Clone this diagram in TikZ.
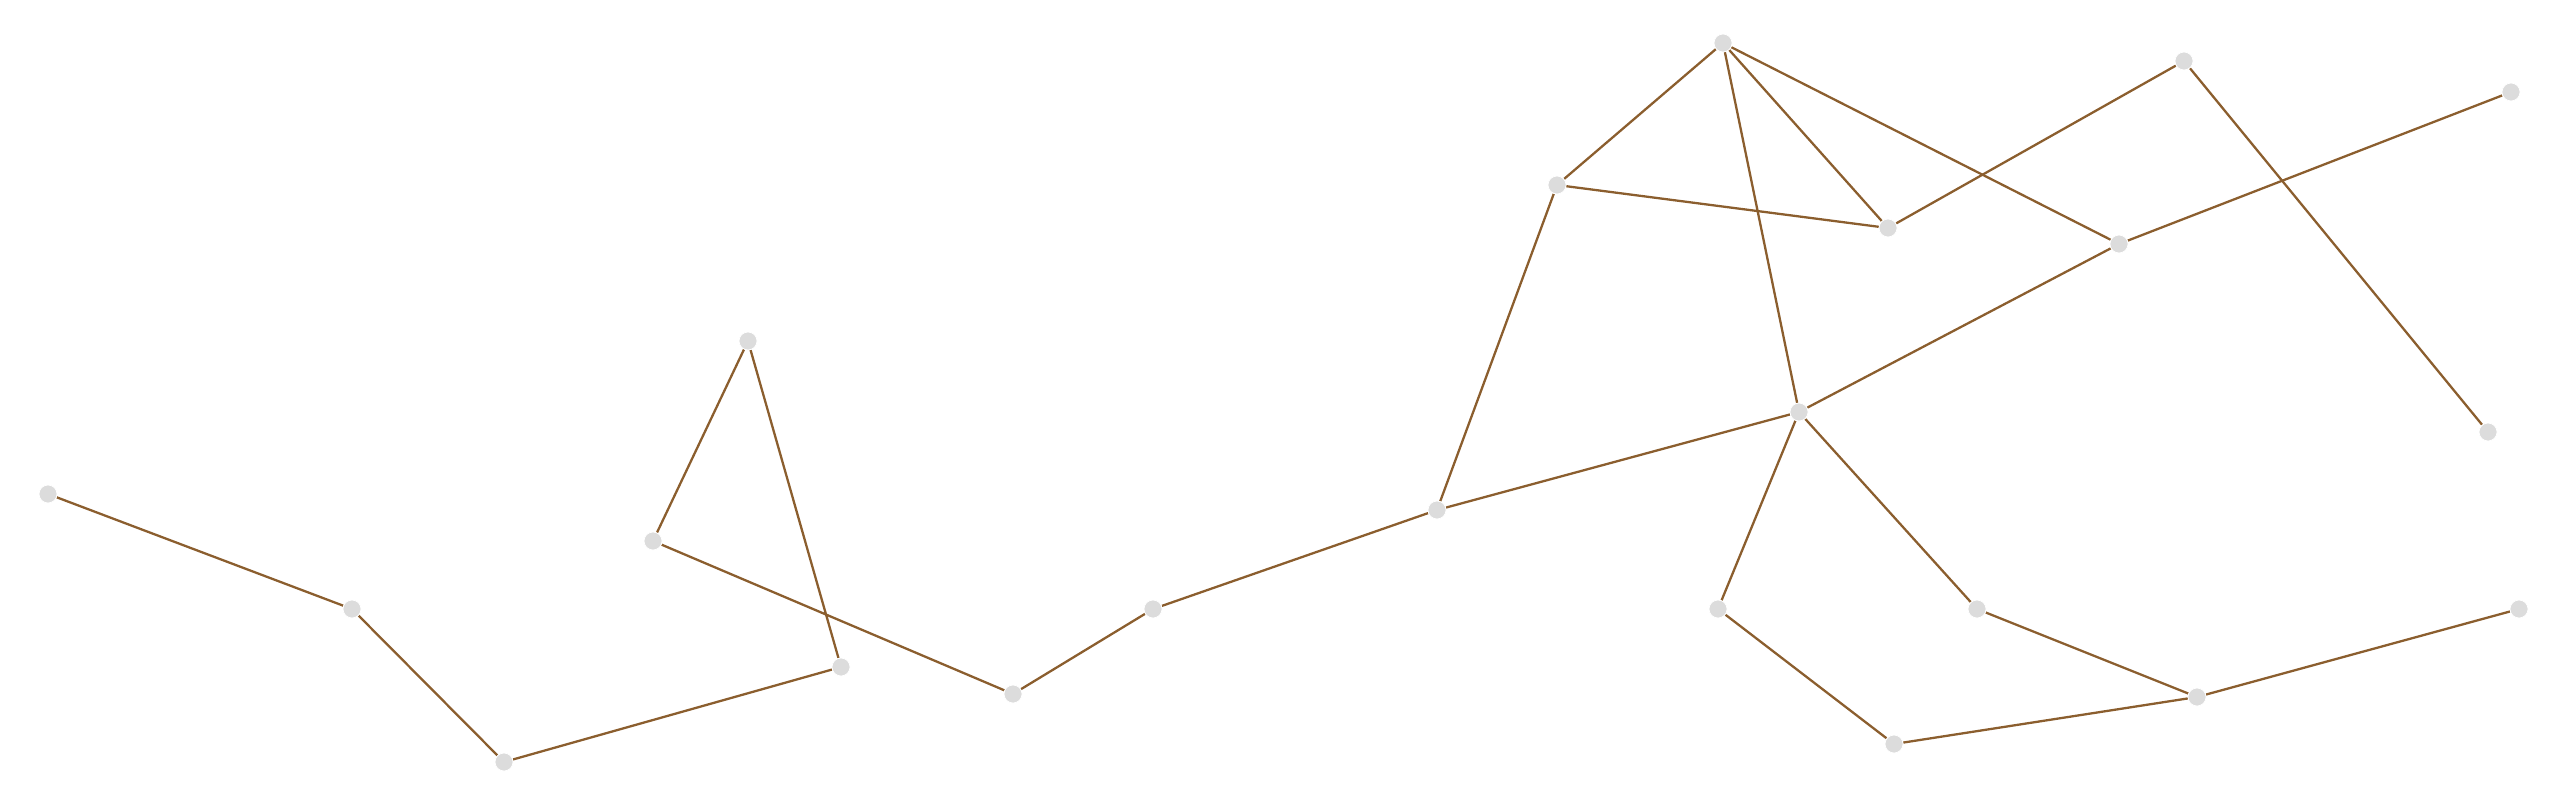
\documentclass[tikz,border=0pt]{standalone}
\usepackage{xcolor}
\usepackage{tikz}
\usetikzlibrary{backgrounds}

\definecolor{edgebrown}{RGB}{139,94,46}
\definecolor{dotgray}{RGB}{220,220,220}

\begin{document}
\begin{tikzpicture}[
    vtx/.style={circle, fill=dotgray, draw=white, line width=0.2pt,
                inner sep=0pt, minimum size=0.18cm},
    link/.style={draw=edgebrown, line width=0.65pt}]
  \useasboundingbox (0,0) rectangle (25.6,7.9);

  % vertices, left to right
  \node[vtx] (v1)  at (0.48,2.96) {};
  \node[vtx] (v2)  at (3.52,1.81) {};
  \node[vtx] (v3)  at (5.04,0.28) {};
  \node[vtx] (v4)  at (6.53,2.49) {};
  \node[vtx] (v5)  at (7.48,4.49) {};
  \node[vtx] (v6)  at (8.41,1.23) {};
  \node[vtx] (v7)  at (10.13,0.96) {};
  \node[vtx] (v8)  at (11.53,1.81) {};
  \node[vtx] (v9)  at (14.37,2.80) {};
  \node[vtx] (v10) at (15.57,6.05) {};
  \node[vtx] (v11) at (17.18,1.81) {};
  \node[vtx] (v12) at (17.23,7.47) {};
  \node[vtx] (v13) at (17.99,3.78) {};
  \node[vtx] (v14) at (18.88,5.62) {};
  \node[vtx] (v15) at (18.94,0.46) {};
  \node[vtx] (v16) at (19.77,1.81) {};
  \node[vtx] (v17) at (21.19,5.46) {};
  \node[vtx] (v18) at (21.84,7.29) {};
  \node[vtx] (v19) at (21.97,0.93) {};
  \node[vtx] (v20) at (24.88,3.58) {};
  \node[vtx] (v21) at (25.11,6.98) {};
  \node[vtx] (v22) at (25.19,1.81) {};

  % edges behind the vertices
  \begin{scope}[on background layer]
    \draw[link] (v1) -- (v2) -- (v3) -- (v6) -- (v5) -- (v4) -- (v7)
                -- (v8) -- (v9) -- (v10) -- (v12) -- (v13);
    \draw[link] (v9) -- (v13) -- (v17) -- (v21);
    \draw[link] (v10) -- (v14) -- (v18) -- (v20);
    \draw[link] (v12) -- (v14);
    \draw[link] (v12) -- (v17);
    \draw[link] (v13) -- (v11) -- (v15) -- (v19) -- (v22);
    \draw[link] (v13) -- (v16) -- (v19);
  \end{scope}
\end{tikzpicture}
\end{document}
